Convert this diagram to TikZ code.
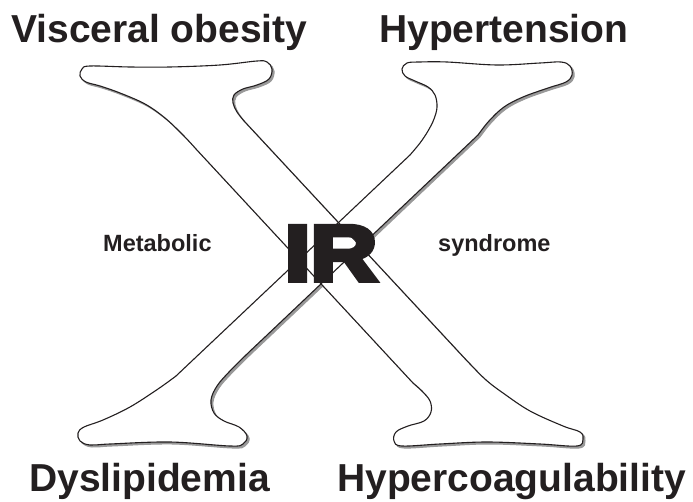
\documentclass[tikz,border=0pt]{standalone}
\usepackage{fontspec}
\setmainfont{Liberation Sans}
\newfontfamily\irfont{Liberation Sans}[FakeBold=6]
\definecolor{ink}{RGB}{35,31,32}
\begin{document}
\begin{tikzpicture}[x=1pt,y=-1pt,
  thickpath/.style={insert path={
    plot[smooth,tension=0.6] coordinates{(196,149) (183,135) (165,118) (145,104) (120,93) (100,86) (86,82) (80,76) (82,69) (90,66) (130,67) (170,67) (220,65) (257,61) (267,62) (272,69) (269,79) (257,85) (243,89) (234,95) (233,103) (237,112) (244,121)}
    -- plot[smooth,tension=0.6] coordinates{(455,348) (470,364) (486,380) (503,393) (530,411) (563,426) (580,432) (583,439) (577,446) (540,444) (487,442) (440,444) (402,446) (394,441) (396,432) (408,426) (424,421) (431,412) (430,401) (422,391) (413,383)}
    -- cycle}},
  thinpath/.style={insert path={
    plot[smooth,tension=0.6] coordinates{(410,155) (420,143) (428,131) (434,119) (437,107) (435,95) (428,87) (415,81) (405,76) (402,69) (407,63) (420,62) (447,62) (497,65) (540,63) (561,62) (570,66) (572,75) (566,82) (548,88) (523,97) (504,107) (489,121) (478,135)}
    -- plot[smooth,tension=0.6] coordinates{(265,337) (246,355) (229,372) (217,386) (211,400) (214,413) (224,421) (239,427) (247,436) (243,444) (230,446) (170,442) (110,444) (90,445) (80,441) (78,433) (84,427) (103,420) (130,407) (158,389) (176,376)}
    -- cycle}},
  shadowfill/.style={fill=black!40, draw=black!40, line width=1pt},
  outline/.style={draw=ink, line width=1.1pt, line join=round},
  lab/.style={font=\bfseries\fontsize{39}{39}\selectfont, text=ink, inner sep=0pt, anchor=base west},
  mid/.style={font=\bfseries\fontsize{23.5}{23.5}\selectfont, text=ink, inner sep=0pt, anchor=base west}]
\useasboundingbox (0,0) rectangle (693,502);
% shadow
\path[shadowfill, shift={(2,2)}, thickpath];
\path[shadowfill, shift={(2,2)}, thinpath];
% white bodies
\path[fill=white, thickpath];
\path[fill=white, thinpath];
% outlines
\path[outline, thickpath];
\path[outline, thinpath];
% centre text
\node[font=\irfont\bfseries\fontsize{79}{79}\selectfont, text=ink, inner sep=0pt, anchor=base] (ir) at (331,280.5) {\scalebox{1.17}[1]{IR}};
\node[mid] (met) at (103,252) {Metabolic};
\node[mid] (syn) at (438,252) {syndrome};
% corner labels
\node[lab] (vo) at (11,43) {Visceral obesity};
\node[lab] (ht) at (379,43) {Hypertension};
\node[lab] (dl) at (29,491) {Dyslipidemia};
\node[lab] (hc) at (337,491) {Hypercoagulability};
\end{tikzpicture}
\end{document}
